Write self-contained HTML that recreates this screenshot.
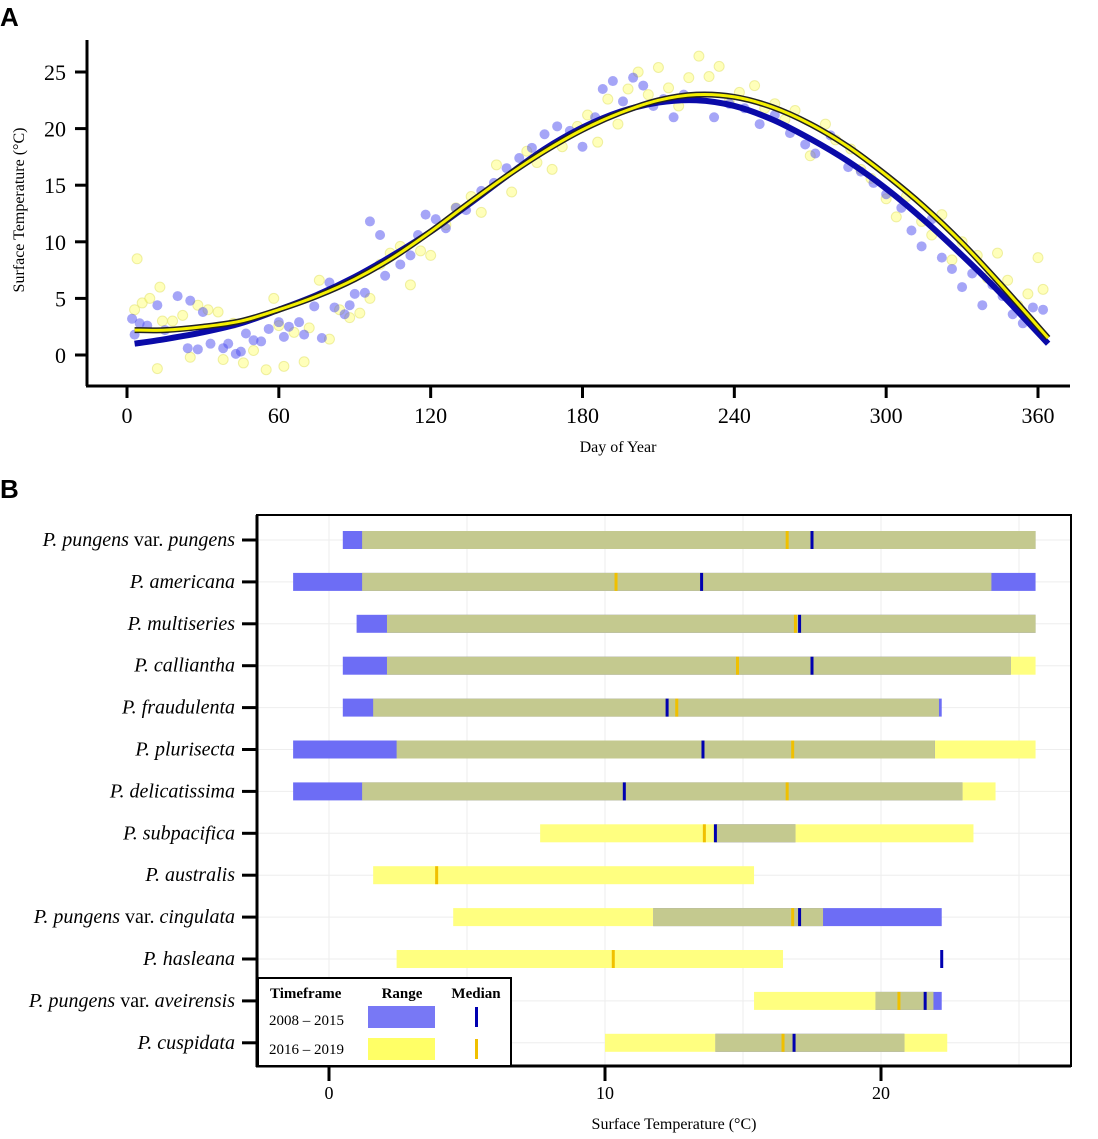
<!DOCTYPE html>
<html><head><meta charset="utf-8"><style>
body{margin:0;background:#fff;width:1098px;height:1134px;overflow:hidden}
svg text{font-family:"Liberation Serif",serif}
</style></head><body>
<svg id="s" width="1098" height="1134" xmlns="http://www.w3.org/2000/svg">
<text x="0" y="26" font-weight="bold" font-size="26" style="font-family:'Liberation Sans',sans-serif">A</text>
<text x="0" y="498" font-weight="bold" font-size="26" style="font-family:'Liberation Sans',sans-serif">B</text>
<g id="pa"></g>
<g id="pb"></g>
</svg>
<script>
// ---------- Panel A data ----------
const xTicksA=[0,60,120,180,240,300,360];
const yTicksA=[0,5,10,15,20,25];
const curveDays=[3,15,30,45,60,75,90,105,120,135,150,165,180,195,210,225,240,255,270,285,300,315,330,345,364];
const curveBlue=[1.0,1.4,2.0,2.8,4.0,5.3,6.9,8.8,10.9,13.3,15.8,18.2,20.1,21.5,22.3,22.5,22.0,20.8,19.1,17.1,14.7,11.9,8.8,5.5,1.0];
const curveYellow=[2.2,2.2,2.5,3.0,4.0,5.2,6.7,8.6,10.9,13.4,15.8,18.0,19.9,21.4,22.5,23.0,22.8,21.9,20.4,18.4,15.9,13.1,9.9,6.3,1.5];
const ptsBlue=[[2,3.2],[3,1.8],[5,2.8],[8,2.6],[12,4.4],[15,2.2],[20,5.2],[24,0.6],[25,4.8],[28,0.5],[30,3.8],[33,1.0],[38,0.6],[40,1.0],[43,0.1],[45,0.3],[47,1.9],[50,1.3],[53,1.2],[56,2.3],[60,2.9],[62,1.6],[64,2.5],[68,2.9],[70,1.8],[74,4.3],[77,1.5],[80,6.4],[82,4.2],[86,3.6],[88,4.4],[90,5.4],[94,5.5],[96,11.8],[100,10.6],[102,7.0],[108,8.0],[112,8.8],[115,10.6],[118,12.4],[122,12.0],[126,11.2],[130,13.0],[134,12.8],[140,14.5],[145,15.2],[150,16.5],[155,17.4],[160,18.3],[165,19.5],[170,20.2],[175,19.8],[180,18.4],[185,21.0],[188,23.5],[192,24.2],[196,22.4],[200,24.5],[204,23.8],[208,22.0],[212,22.6],[216,21.0],[220,23.0],[225,22.8],[232,21.0],[238,22.2],[244,21.8],[250,20.4],[256,21.2],[262,19.6],[268,18.6],[272,17.8],[278,19.4],[285,16.6],[290,16.2],[295,15.2],[300,14.2],[306,13.0],[310,11.0],[314,9.6],[318,12.0],[322,8.6],[326,7.6],[330,6.0],[334,7.2],[338,4.4],[342,6.2],[346,5.2],[350,3.6],[354,2.8],[358,4.2],[362,4.0]];
const ptsYellow=[[3,4.0],[4,8.5],[6,4.6],[9,5.0],[12,-1.2],[13,6.0],[14,3.0],[18,3.0],[22,3.5],[25,-0.2],[28,4.4],[32,4.0],[36,3.8],[38,-0.4],[42,2.8],[46,-0.7],[50,0.4],[55,-1.3],[58,5.0],[60,2.6],[62,-1.0],[66,2.0],[70,-0.6],[72,2.4],[76,6.6],[80,1.4],[84,4.0],[88,3.3],[92,3.7],[96,5.0],[100,8.0],[104,9.0],[108,9.6],[112,6.2],[116,9.2],[120,8.8],[126,11.5],[130,13.0],[136,14.0],[140,12.6],[146,16.8],[152,14.4],[158,18.0],[162,17.0],[168,16.4],[172,18.4],[178,20.2],[182,21.2],[186,18.8],[190,22.6],[194,20.4],[198,23.5],[202,25.0],[206,23.0],[210,25.4],[214,23.6],[218,22.0],[222,24.5],[226,26.4],[230,24.6],[234,25.5],[238,22.4],[242,23.2],[248,23.8],[252,21.8],[256,22.2],[260,20.8],[264,21.6],[270,17.6],[276,20.4],[280,19.0],[286,18.2],[290,16.4],[294,15.6],[300,13.8],[304,12.2],[308,14.0],[314,11.8],[318,10.6],[322,12.4],[326,8.4],[330,10.0],[336,8.8],[340,6.8],[344,9.0],[348,6.6],[352,4.4],[356,5.4],[360,8.6],[362,5.8]];

// ---------- Panel B data ----------
const species=[["P. pungens"," var. ","pungens"],["P. americana"],["P. multiseries"],["P. calliantha"],["P. fraudulenta"],["P. plurisecta"],["P. delicatissima"],["P. subpacifica"],["P. australis"],["P. pungens"," var. ","cingulata"],["P. hasleana"],["P. pungens"," var. ","aveirensis"],["P. cuspidata"]];
const blueMin=[0.5,-1.3,1.0,0.5,0.5,-1.3,-1.3,14.0,null,11.75,22.2,19.8,14.0];
const blueMax=[25.6,25.6,25.6,24.7,22.2,21.95,22.95,16.9,null,22.2,22.2,22.2,20.85];
const yellowMin=[1.2,1.2,2.1,2.1,1.6,2.45,1.2,7.65,1.6,4.5,2.45,15.4,10.0];
const yellowMax=[25.6,24.0,25.6,25.6,22.1,25.6,24.15,23.35,15.4,17.9,16.45,21.9,22.4];
const blueMed=[17.5,13.5,17.05,17.5,12.25,13.55,10.7,14.0,null,17.05,22.2,21.6,16.85];
const yellowMed=[16.6,10.4,16.9,14.8,12.6,16.8,16.6,13.6,3.9,16.8,10.3,20.65,16.45];
const xTicksB=[0,10,20];

const NS="http://www.w3.org/2000/svg";
function mk(parent,tag,attrs,txt){const e=document.createElementNS(NS,tag);for(const k in attrs)e.setAttribute(k,attrs[k]);if(txt!==undefined)e.textContent=txt;parent.appendChild(e);return e;}

// Panel A
const pa=document.getElementById('pa');
const xA=d=>127+d*(1038-127)/360;
const yA=t=>355-t*(355-72)/25;
mk(pa,'line',{x1:87,y1:40,x2:87,y2:386,stroke:'#000','stroke-width':3});
mk(pa,'line',{x1:86,y1:386,x2:1070,y2:386,stroke:'#000','stroke-width':3});
yTicksA.forEach(t=>{
 const l=mk(pa,'line',{x1:75,y1:yA(t),x2:87,y2:yA(t),stroke:'#000','stroke-width':3});
 
 const tx=mk(pa,'text',{x:66,y:yA(t)+8,'text-anchor':'end','font-size':22},t);
 
});
xTicksA.forEach(d=>{
 const l=mk(pa,'line',{x1:xA(d),y1:386,x2:xA(d),y2:398,stroke:'#000','stroke-width':3});
 
 const tx=mk(pa,'text',{x:xA(d),y:423,'text-anchor':'middle','font-size':22},d);
 
});
let t1=mk(pa,'text',{x:618,y:452,'text-anchor':'middle','font-size':16},'Day of Year');

let t2=mk(pa,'text',{x:0,y:0,'text-anchor':'middle','font-size':16,transform:'translate(24,210) rotate(-90)'},'Surface Temperature (°C)');

ptsYellow.forEach(p=>{const c=mk(pa,'circle',{cx:xA(p[0]),cy:yA(p[1]),r:5,fill:'#ffff66','fill-opacity':0.45,stroke:'#e0e060','stroke-opacity':0.5});
 });
ptsBlue.forEach(p=>{const c=mk(pa,'circle',{cx:xA(p[0]),cy:yA(p[1]),r:5,fill:'#4b4bf0','fill-opacity':0.5});
 });
function smoothPath(vals){
 const P=curveDays.map((d,i)=>[xA(d),yA(vals[i])]);
 let s='M'+P[0][0]+','+P[0][1];
 for(let i=0;i<P.length-1;i++){
  const p0=P[Math.max(0,i-1)],p1=P[i],p2=P[i+1],p3=P[Math.min(P.length-1,i+2)];
  const c1=[p1[0]+(p2[0]-p0[0])/6,p1[1]+(p2[1]-p0[1])/6],c2=[p2[0]-(p3[0]-p1[0])/6,p2[1]-(p3[1]-p1[1])/6];
  s+=' C'+c1+' '+c2+' '+p2;
 }
 return s;
}
let cb=mk(pa,'path',{d:smoothPath(curveBlue),fill:'none',stroke:'#0a0aa8','stroke-width':6});

let cyo=mk(pa,'path',{d:smoothPath(curveYellow),fill:'none',stroke:'#222','stroke-width':6});

let cy=mk(pa,'path',{d:smoothPath(curveYellow),fill:'none',stroke:'#f5f000','stroke-width':3});


// Panel B
const pb=document.getElementById('pb');
const xB=v=>329+v*(605-329)/10;
const rowY=i=>540+i*41.9;
mk(pb,'rect',{x:257,y:515,width:814,height:551,fill:'#fff'});
xTicksB.concat([5,15,25]).forEach(v=>{const g=mk(pb,'line',{x1:xB(v),y1:515,x2:xB(v),y2:1066,stroke:'#ececec','stroke-width':1});});
species.forEach((s,i)=>{const g=mk(pb,'line',{x1:257,y1:rowY(i),x2:1071,y2:rowY(i),stroke:'#eeeeee','stroke-width':1});});
const H=18;
species.forEach((s,i)=>{
 const y=rowY(i);
 const yr=mk(pb,'rect',{x:xB(yellowMin[i]),y:y-H/2,width:xB(yellowMax[i])-xB(yellowMin[i]),height:H,fill:'#ffff80'});
 
 if(blueMin[i]!==null && blueMax[i]>blueMin[i]){
  const br=mk(pb,'rect',{x:xB(blueMin[i]),y:y-H/2,width:xB(blueMax[i])-xB(blueMin[i]),height:H,fill:'#6d6df5'});
  
  const a=Math.max(blueMin[i],yellowMin[i]),b=Math.min(blueMax[i],yellowMax[i]);
  if(b>a){const o=mk(pb,'rect',{x:xB(a),y:y-H/2,width:xB(b)-xB(a),height:H,fill:'#c4c98f'});
   }
 }
 const ym=mk(pb,'rect',{x:xB(yellowMed[i])-1.5,y:y-9,width:3,height:18,fill:'#f0c000'});
 
 if(blueMed[i]!==null){const bm=mk(pb,'rect',{x:xB(blueMed[i])-1.5,y:y-9,width:3,height:18,fill:'#0000b0'});
  }
 const t=mk(pb,'line',{x1:242,y1:y,x2:257,y2:y,stroke:'#000','stroke-width':3});
 
 const lab=mk(pb,'text',{x:235,y:y+6,'text-anchor':'end','font-size':20});
 
 mk(lab,'tspan',{'font-style':'italic'},s[0]);
 if(s.length>1){mk(lab,'tspan',{},s[1]);mk(lab,'tspan',{'font-style':'italic'},s[2]);}
});
let fr=mk(pb,'rect',{x:257,y:515,width:814,height:551,fill:'none',stroke:'#000','stroke-width':2});

mk(pb,'line',{x1:257,y1:515,x2:257,y2:1067,stroke:'#000','stroke-width':3});
mk(pb,'line',{x1:256,y1:1066,x2:1071,y2:1066,stroke:'#000','stroke-width':3});
xTicksB.forEach(v=>{
 const l=mk(pb,'line',{x1:xB(v),y1:1066,x2:xB(v),y2:1081,stroke:'#000','stroke-width':3});
 
 const tx=mk(pb,'text',{x:xB(v),y:1099,'text-anchor':'middle','font-size':18},v);
 
});
let t3=mk(pb,'text',{x:674,y:1129,'text-anchor':'middle','font-size':16},'Surface Temperature (°C)');

// legend
const lg=mk(pb,'g',{});

mk(lg,'rect',{x:258,y:978,width:253,height:88,fill:'#fff',stroke:'#000','stroke-width':2});
mk(lg,'text',{x:270,y:998,'font-size':15,'font-weight':'bold'},'Timeframe');
mk(lg,'text',{x:402,y:998,'font-size':15,'font-weight':'bold','text-anchor':'middle'},'Range');
mk(lg,'text',{x:476,y:998,'font-size':15,'font-weight':'bold','text-anchor':'middle'},'Median');
mk(lg,'text',{x:269,y:1025,'font-size':15},'2008 – 2015');
mk(lg,'text',{x:269,y:1054,'font-size':15},'2016 – 2019');
let le1=mk(lg,'rect',{x:368,y:1006,width:67,height:22,fill:'#7878f5'});
let le2=mk(lg,'rect',{x:368,y:1038,width:67,height:22,fill:'#ffff66'});
mk(lg,'rect',{x:475,y:1007,width:3,height:20,fill:'#0000b0'});
mk(lg,'rect',{x:475,y:1039,width:3,height:20,fill:'#f0c000'});
</script>
</body></html>
